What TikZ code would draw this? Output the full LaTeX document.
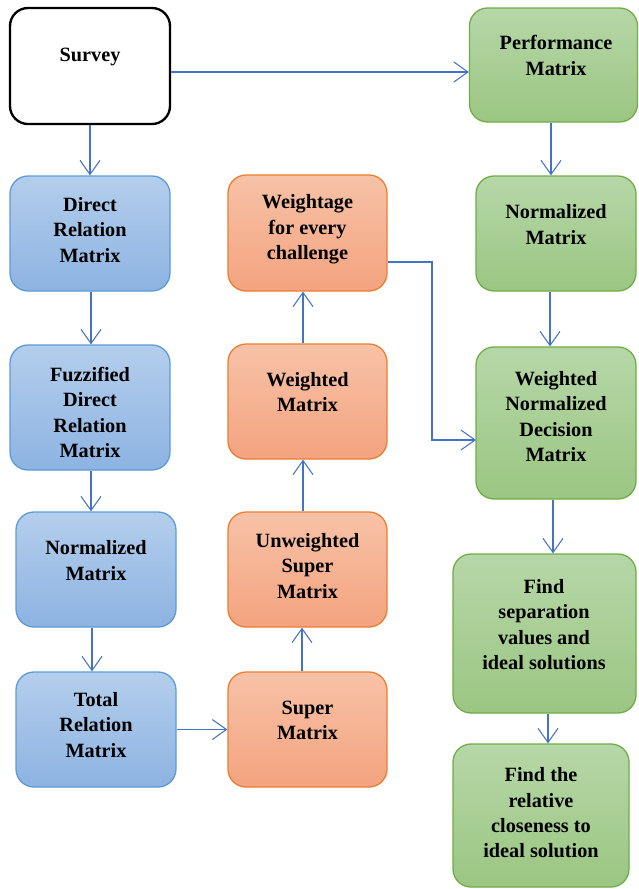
\documentclass[tikz,border=0pt]{standalone}
\usepackage{fontspec}
\setmainfont{Liberation Serif}
\usepackage{xcolor}
\usetikzlibrary{arrows.meta,positioning,calc}
\definecolor{bluetop}{HTML}{B4CEEC}
\definecolor{bluebot}{HTML}{8DB3E2}
\definecolor{blueline}{HTML}{5B9BD5}
\definecolor{orgtop}{HTML}{F7C2A7}
\definecolor{orgbot}{HTML}{F4A37F}
\definecolor{orgline}{HTML}{ED7D31}
\definecolor{grntop}{HTML}{B6D7A8}
\definecolor{grnbot}{HTML}{9BC682}
\definecolor{grnline}{HTML}{70AD47}
\definecolor{arrowc}{HTML}{4472C4}
\tikzset{
  stage/.style={rounded corners=18*0.03cm, line width=1.1pt},
  sz/.style 2 args={minimum width={#1*0.03cm}, minimum height={#2*0.03cm}, inner sep=0pt},
  bluestage/.style={stage, draw=blueline, top color=bluetop, bottom color=bluebot},
  orgstage/.style={stage, draw=orgline, top color=orgtop, bottom color=orgbot},
  grnstage/.style={stage, draw=grnline, top color=grntop, bottom color=grnbot},
  startstage/.style={stage, draw=black, line width=2pt, fill=white},
  txt/.style={font=\fontsize{17.3}{21.6}\selectfont\bfseries, align=center, inner sep=0pt},
  flow/.style={-{Straight Barb[length=12pt,width=17pt,line width=0.9pt]}, line width=0.9pt, draw=arrowc},
}
\def\cA{90}
\def\cB{96}
\def\cC{307.5}
\def\cD{556}
\begin{document}
\begin{tikzpicture}[x=0.03cm,y=-0.03cm]
  \useasboundingbox (0,0) rectangle (638,889);
  % left column
  \node[startstage, sz={160}{116}] (survey) at (\cA,66) {};
  \node[bluestage, sz={160}{115}] (drm) at (\cA,233.5) {};
  \node[bluestage, sz={160}{125}] (fdrm) at (\cA,407.5) {};
  \node[bluestage, sz={160}{115}] (nmb) at (\cB,569.5) {};
  \node[bluestage, sz={160}{115}] (trm) at (\cB,729.5) {};
  % middle column
  \node[orgstage, sz={159}{115}] (sm) at (\cC,729.5) {};
  \node[orgstage, sz={159}{115}] (usm) at (\cC,569.5) {};
  \node[orgstage, sz={159}{115}] (wm) at (\cC,401.5) {};
  \node[orgstage, sz={159}{116}] (wec) at (\cC,233) {};
  % right column
  \node[grnstage, sz={168}{114}] (pm) at (553.5,65) {};
  \node[grnstage, sz={160}{115}] (nmg) at (\cD,233.5) {};
  \node[grnstage, sz={160}{152}] (wnd) at (\cD,423) {};
  \node[grnstage, sz={183}{159}] (fsv) at (544.5,633.5) {};
  \node[grnstage, sz={176}{143}] (frc) at (541,815.5) {};
  % texts
  \node[txt] (surveyt) at (\cA,57) {Survey};
  \node[txt] (drmt) at (\cA,230) {Direct\\Relation\\Matrix};
  \node[txt] (fdrmt) at (\cA,412.5) {Fuzzified\\Direct\\Relation\\Matrix};
  \node[txt] (nmbt) at (\cB,560.5) {Normalized\\Matrix};
  \node[txt] (trmt) at (\cB,725) {Total\\Relation\\Matrix};
  \node[txt] (smt) at (\cC,720.5) {Super\\Matrix};
  \node[txt] (usmt) at (\cC,566) {Unweighted\\Super\\Matrix};
  \node[txt] (wmt) at (\cC,392) {Weighted\\Matrix};
  \node[txt] (wect) at (\cC,229.5) {Weightage\\for every\\challenge};
  \node[txt] (pmt) at (556,55.5) {Performance\\Matrix};
  \node[txt] (nmgt) at (\cD,224.5) {Normalized\\Matrix};
  \node[txt] (wndt) at (\cD,416.5) {Weighted\\Normalized\\Decision\\Matrix};
  \node[txt] (fsvt) at (544,624.5) {Find\\separation\\values and\\ideal solutions};
  \node[txt] (frct) at (541,813) {Find the\\relative\\closeness to\\ideal solution};
  % connectors
  \coordinate (elbow) at (432,262);
  \coordinate (inlet) at (476,440);
  \draw[flow] (survey.east |- 0,72) -- (pm.west |- 0,72);
  \draw[flow] (survey) -- (drm);
  \draw[flow] (drm.south -| 91,0) -- (fdrm.north -| 91,0);
  \draw[flow] (fdrm.south -| 91,0) -- (nmb.north -| 91,0);
  \draw[flow] (nmb.south -| 92,0) -- (trm.north -| 92,0);
  \draw[flow] (trm) -- (sm);
  \draw[flow] (sm.north -| 302,0) -- (usm.south -| 302,0);
  \draw[flow] (usm.north -| 303,0) -- (wm.south -| 303,0);
  \draw[flow] (wm.north -| 303,0) -- (wec.south -| 303,0);
  \draw[flow] (wec.east |- elbow) -- (elbow) |- (inlet);
  \draw[flow] (pm.south -| 551,0) -- (nmg.north -| 551,0);
  \draw[flow] (nmg.south -| 550,0) -- (wnd.north -| 550,0);
  \draw[flow] (wnd.south -| 553,0) -- (fsv.north -| 553,0);
  \draw[flow] (fsv.south -| 548,0) -- (frc.north -| 548,0);
\end{tikzpicture}
\end{document}
